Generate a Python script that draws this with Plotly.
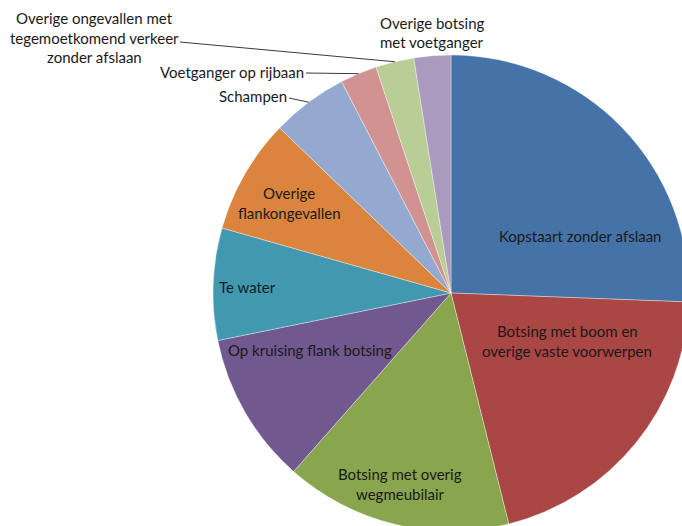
import math
import plotly.graph_objects as go

# Accident types (share of accidents, %), listed clockwise from 12 o'clock
categories = [
    "Kopstaart zonder afslaan",
    "Botsing met boom en overige vaste voorwerpen",
    "Botsing met overig wegmeubilair",
    "Op kruising flank botsing",
    "Te water",
    "Overige flankongevallen",
    "Schampen",
    "Voetganger op rijbaan",
    "Overige ongevallen met tegemoetkomend verkeer zonder afslaan",
    "Overige botsing met voetganger",
]
shares = [25.6, 20.5, 15.4, 10.3, 7.6, 7.8, 5.2, 2.5, 2.6, 2.5]

# Wrapped label text per slice
label_lines = [
    ["Kopstaart zonder afslaan"],
    ["Botsing met boom en", "overige vaste voorwerpen"],
    ["Botsing met overig", "wegmeubilair"],
    ["Op kruising flank botsing"],
    ["Te water"],
    ["Overige", "flankongevallen"],
    ["Schampen"],
    ["Voetganger op rijbaan"],
    ["Overige ongevallen met", "tegemoetkomend verkeer", "zonder afslaan"],
    ["Overige botsing", "met voetganger"],
]

slice_colors = [
    "#4572A7", "#AA4643", "#89A54E", "#71588F", "#4198AF",
    "#DB843D", "#93A9CF", "#D19392", "#B9CD96", "#A99BBD",
]

# ---- layout (pixels) ----
W, H = 700, 545          # canvas, larger than the visible window so the pie runs off the edge
VIEW_W, VIEW_H = 682, 526
CX, CY, R = 451, 293, 238
LINE_H = 19.5
FONT = dict(family="Lato, 'Open Sans', sans-serif", size=15, color="#1a1a1a")

# centre of each label block (x, y of first line)
label_pos = [
    (580, 236),
    (567, 331),
    (400, 474),
    (310, 350),
    (248, 287),
    (289, 193),
    (253, 96),
    (232, 72),
    (94, 18),
    (432, 23),
]
# slices whose labels sit outside with a leader line: index -> line start (px)
leaders = {8: (180, 42), 7: (306, 73), 6: (289, 98)}


def px(x):
    return x / W


def py(y):
    return 1 - y / H


fig = go.Figure(
    go.Pie(
        labels=categories,
        values=shares,
        sort=False,
        direction="clockwise",
        rotation=0,
        marker=dict(colors=slice_colors, line=dict(color="rgba(255,255,255,0.6)", width=0.6)),
        textinfo="none",
        hoverinfo="label+percent",
        showlegend=False,
        domain=dict(x=[px(CX - R), px(CX + R)], y=[py(CY + R), py(CY - R)]),
    )
)

annotations = []
for lines, (lx, ly) in zip(label_lines, label_pos):
    for k, line in enumerate(lines):
        annotations.append(
            dict(
                x=px(lx), y=py(ly + k * LINE_H), xref="paper", yref="paper",
                text=line, showarrow=False, xanchor="center", yanchor="middle",
                font=FONT,
            )
        )

# leader lines end on the rim at the middle angle of their slice
total = sum(shares)
cum = 0.0
mid_angle = []
for v in shares:
    mid_angle.append((cum + v / 2) / total * 2 * math.pi)
    cum += v

shapes = []
for idx, (sx, sy) in leaders.items():
    a = mid_angle[idx]
    ex = CX + R * math.sin(a)
    ey = CY - R * math.cos(a)
    shapes.append(
        dict(type="line", xref="paper", yref="paper",
             x0=px(sx), y0=py(sy), x1=px(ex), y1=py(ey),
             line=dict(color="#3a3a3a", width=1))
    )

fig.update_layout(
    width=W, height=H,
    margin=dict(l=0, r=0, t=0, b=0),
    paper_bgcolor="white",
    plot_bgcolor="white",
    annotations=annotations,
    shapes=shapes,
)

clip = (
    "document.body.style.margin='0';"
    "var gd=document.getElementById('{plot_id}');"
    "var wrap=gd.parentElement;"
    "wrap.style.width='%dpx';wrap.style.height='%dpx';wrap.style.overflow='hidden';"
    "document.documentElement.style.overflow='hidden';document.body.style.overflow='hidden';"
) % (VIEW_W, VIEW_H)

fig.write_html("out.html", config={"displayModeBar": False}, post_script=clip)
